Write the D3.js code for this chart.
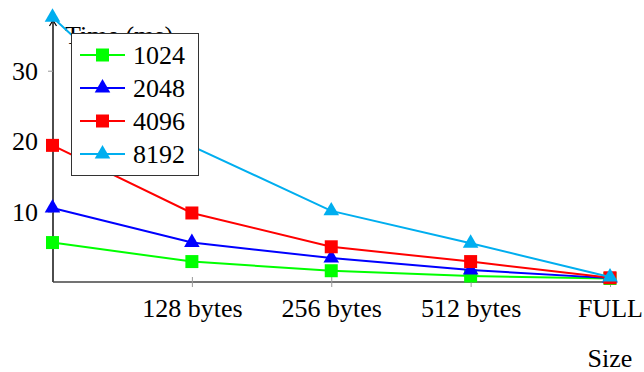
<!DOCTYPE html>
<html>
<head>
<meta charset="utf-8">
<script src="https://cdn.jsdelivr.net/npm/d3@7"></script>
<style>
  html, body { margin: 0; padding: 0; background: #fff; }
  svg { display: block; }
</style>
</head>
<body>
<svg id="chart" width="644" height="372"></svg>
<script>
// Block sizes on the x axis (index 0 carries no tick label)
const xTickLabels = ["", "128 bytes", "256 bytes", "512 bytes", "FULL"];
const xTickIndex = [1, 2, 3, 4];
const yTicks = [10, 20, 30];

// Time (ms) per block size, one series per buffer size
const seriesNames = ["1024", "2048", "4096", "8192"];
const values1024 = [5.6, 2.9, 1.6, 0.85, 0.5];
const values2048 = [10.5, 5.6, 3.4, 1.7, 0.55];
const values4096 = [19.4, 9.8, 5.0, 2.9, 0.6];
const values8192 = [37.6, 19.3, 10.1, 5.5, 0.7];

const colors = ["#00ff00", "#0000ff", "#ff0000", "#00aeef"];
const markers = ["square", "triangle", "square", "triangle"];
const allValues = [values1024, values2048, values4096, values8192];

const FONT = "'Liberation Serif', 'Times New Roman', 'DejaVu Serif', serif";
const FSIZE = "26px";
const styleText = sel => sel
  .style("font-family", FONT).style("font-size", FSIZE).style("fill", "#000");

const svg = d3.select("#chart");

const x = d3.scaleLinear().domain([0, 4]).range([52.5, 610]);
const y = d3.scaleLinear().domain([0, 37.2]).range([282, 20]);

// Axes
const axisG = svg.append("g");
// y axis line with arrow tip
axisG.append("line")
  .attr("x1", 53).attr("x2", 53)
  .attr("y1", y(0)).attr("y2", y(37.2) + 1)
  .attr("stroke", "#000").attr("stroke-width", 1.4);
axisG.append("path")
  .attr("d", `M${53 - 3.5},${y(37.2) + 6} Q${53 - 1},${y(37.2) + 2} 53,${y(37.2)} Q${53 + 1},${y(37.2) + 2} ${53 + 3.5},${y(37.2) + 6}`)
  .attr("fill", "none").attr("stroke", "#000").attr("stroke-width", 1.2);
// x axis line
axisG.append("line")
  .attr("x1", 53).attr("x2", 612)
  .attr("y1", y(0)).attr("y2", y(0))
  .attr("stroke", "#444").attr("stroke-width", 1.6);

// y ticks and labels
const yAxis = d3.axisLeft(y).tickValues(yTicks).tickSize(5).tickPadding(10);
const yG = svg.append("g").attr("transform", "translate(53,0)").call(yAxis);
yG.select(".domain").remove();
yG.selectAll(".tick line").attr("stroke", "#999").attr("stroke-width", 1);
yG.selectAll(".tick text").call(styleText).attr("dy", "0.33em");

// x ticks and labels
const xAxis = d3.axisBottom(x).tickValues(xTickIndex)
  .tickFormat(i => xTickLabels[i]).tickSize(5).tickPadding(12);
const xG = svg.append("g").attr("transform", `translate(0,${y(0)})`).call(xAxis);
xG.select(".domain").remove();
xG.selectAll(".tick line").attr("stroke", "#999").attr("stroke-width", 1).attr("y1", -5);
xG.selectAll(".tick text").call(styleText);

// Axis titles
svg.append("text").attr("x", 65).attr("y", 44).text("Time (ms)").call(styleText);
svg.append("text").attr("x", 610).attr("y", 367).attr("text-anchor", "middle").text("Size").call(styleText);

// Series
const line = d3.line().x((d, i) => x(i)).y(d => y(d));
const symbolFor = m => m === "square"
  ? d3.symbol().type(d3.symbolSquare).size(169)
  : d3.symbol().type(d3.symbolTriangle).size(105);

allValues.forEach((vals, k) => {
  const g = svg.append("g");
  g.append("path").datum(vals)
    .attr("d", line)
    .attr("fill", "none")
    .attr("stroke", colors[k])
    .attr("stroke-width", 2);
  g.selectAll("path.mark").data(vals).join("path")
    .attr("class", "mark")
    .attr("transform", (d, i) => `translate(${x(i)},${y(d)})`)
    .attr("d", symbolFor(markers[k])())
    .attr("fill", colors[k]);
});

// Legend
const leg = svg.append("g");
leg.append("rect")
  .attr("x", 71.5).attr("y", 33.5).attr("width", 127).attr("height", 142)
  .attr("fill", "#fff").attr("stroke", "#333").attr("stroke-width", 1);
seriesNames.forEach((name, k) => {
  const cy = 55 + k * 33;
  leg.append("line")
    .attr("x1", 80).attr("x2", 125).attr("y1", cy).attr("y2", cy)
    .attr("stroke", colors[k]).attr("stroke-width", 2);
  leg.append("path")
    .attr("transform", `translate(102.5,${cy})`)
    .attr("d", symbolFor(markers[k])())
    .attr("fill", colors[k]);
  leg.append("text").attr("x", 133).attr("y", cy + 9).text(name).call(styleText);
});
</script>
</body>
</html>
